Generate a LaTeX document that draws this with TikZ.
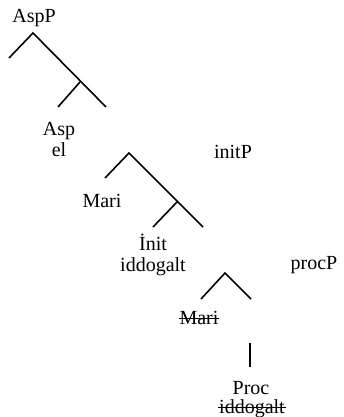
\documentclass[tikz,border=0pt]{standalone}
\usepackage{fontspec}
\setmainfont{Liberation Serif}
% struck-through text (copies left behind by movement)
\newcommand\strk[1]{\setbox0\hbox{#1}\rlap{\kern-0.05em\rule[0.26em]{\dimexpr\wd0+0.1em\relax}{1.2pt}}\box0}
\begin{document}
\begin{tikzpicture}[x=1pt,y=-1pt,
  lbl/.style={inner sep=0pt,anchor=base,font=\fontsize{20}{23}\selectfont},
  branch/.style={line width=1.6pt,line cap=butt}]
\useasboundingbox (0,0) rectangle (344,417);

% labels
\node[lbl] (aspP)  at (34,23)  {AspP};
\node[lbl] (asp)   at (59,135) {Asp};
\node[lbl] (el)    at (59,156) {el};
\node[lbl] (initP) at (233,158) {initP};
\node[lbl] (mari)  at (102,207) {Mari};
\node[lbl] (init)  at (153,250) {İnit};
\node[lbl] (idd)   at (153,271) {iddogalt};
\node[lbl] (procP) at (314,269) {procP};
\node[lbl] (mari2) at (199,324) {\strk{Mari}};
\node[lbl] (proc)  at (251,394) {Proc};
\node[lbl] (idd2)  at (252,413) {\strk{iddogalt}};

% AspP tree
\coordinate (a0) at (33,33);
\coordinate (a1) at (9,58);
\coordinate (a2) at (106,107);
\coordinate (ab) at (80,82);
\coordinate (a3) at (58,107);
\draw[branch] (a1) -- (a0) -- (a2);
\draw[branch] (ab) -- (a3);

% initP tree
\coordinate (b0) at (129,153);
\coordinate (b1) at (105,178);
\coordinate (b2) at (203,227);
\coordinate (bb) at (177,202);
\coordinate (b3) at (153,227);
\draw[branch] (b1) -- (b0) -- (b2);
\draw[branch] (bb) -- (b3);

% procP tree
\coordinate (c0) at (225,273);
\coordinate (c1) at (201,299);
\coordinate (c2) at (251,299);
\draw[branch] (c1) -- (c0) -- (c2);

\coordinate (d0) at (250,343);
\coordinate (d1) at (250,367);
\draw[branch] (d0) -- (d1);
\end{tikzpicture}
\end{document}
